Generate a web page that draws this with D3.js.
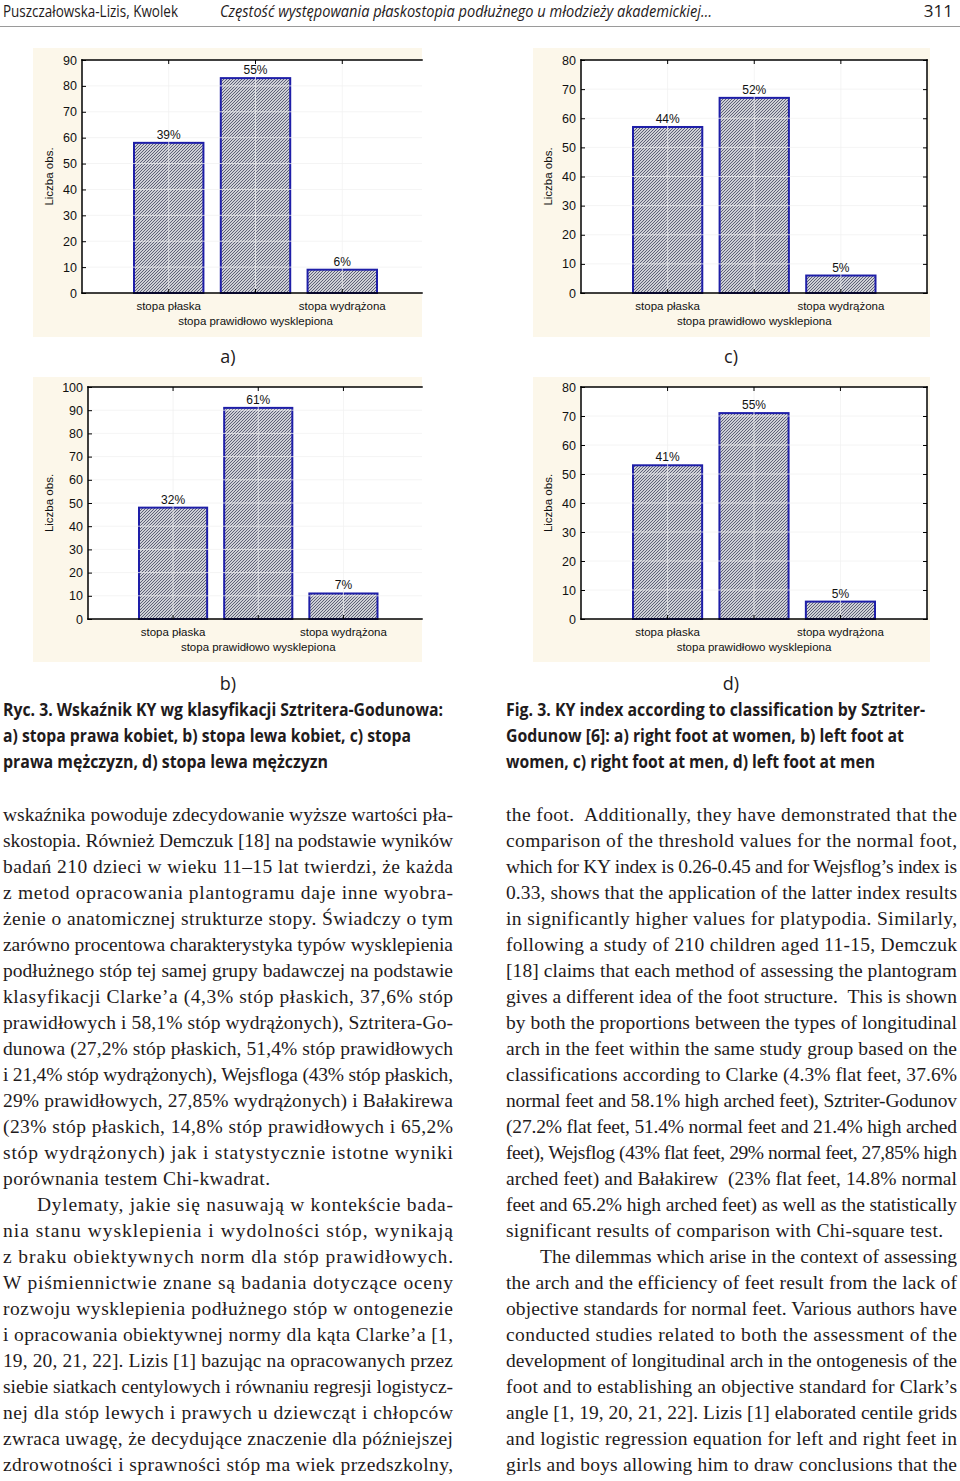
<!DOCTYPE html>
<html><head><meta charset="utf-8">
<script src="https://cdn.jsdelivr.net/npm/d3@7/dist/d3.min.js"></script>
<style>html,body{margin:0;padding:0;background:#fff}svg{display:block}</style>
</head><body>
<svg id="page" width="960" height="1481"></svg>
<script>
// ---------- data ----------
const categories = ["stopa płaska", "stopa prawidłowo wysklepiona", "stopa wydrążona"];
const countsA = [58, 83, 9];
const countsB = [48, 91, 11];
const countsC = [57, 67, 6];
const countsD = [53, 71, 6];
const pctA = ["39%", "55%", "6%"];
const pctB = ["32%", "61%", "7%"];
const pctC = ["44%", "52%", "5%"];
const pctD = ["41%", "55%", "5%"];
const yMaxA = 90, yMaxB = 100, yMaxC = 80, yMaxD = 80;
const yStep = 10;
const yTitle = "Liczba obs.";
const panelLetters = ["a)", "b)", "c)", "d)"];

const headerLeft = "Puszczałowska-Lizis, Kwolek";
const headerTitle = "Częstość występowania płaskostopia podłużnego u młodzieży akademickiej…";
const pageNumber = "311";

const captionPL = [
  "Ryc. 3. Wskaźnik KY wg klasyfikacji Sztritera-Godunowa:",
  "a) stopa prawa kobiet, b) stopa lewa kobiet, c) stopa",
  "prawa mężczyzn, d) stopa lewa mężczyzn"
];
const captionEN = [
  "Fig. 3. KY index according to classification by Sztriter-",
  "Godunow [6]: a) right foot at women, b) left foot at",
  "women, c) right foot at men, d) left foot at men"
];

const bodyLeft = [
  "wskaźnika powoduje zdecydowanie wyższe wartości pła-",
  "skostopia. Również Demczuk [18] na podstawie wyników",
  "badań 210 dzieci w wieku 11–15 lat twierdzi, że każda",
  "z metod opracowania plantogramu daje inne wyobra-",
  "żenie o anatomicznej strukturze stopy. Świadczy o tym",
  "zarówno procentowa charakterystyka typów wysklepienia",
  "podłużnego stóp tej samej grupy badawczej na podstawie",
  "klasyfikacji Clarke’a (4,3% stóp płaskich, 37,6% stóp",
  "prawidłowych i 58,1% stóp wydrążonych), Sztritera-Go-",
  "dunowa (27,2% stóp płaskich, 51,4% stóp prawidłowych",
  "i 21,4% stóp wydrążonych), Wejsfloga (43% stóp płaskich,",
  "29% prawidłowych, 27,85% wydrążonych) i Bałakirewa",
  "(23% stóp płaskich, 14,8% stóp prawidłowych i 65,2%",
  "stóp wydrążonych) jak i statystycznie istotne wyniki",
  "porównania testem Chi-kwadrat.",
  "Dylematy, jakie się nasuwają w kontekście bada-",
  "nia stanu wysklepienia i wydolności stóp, wynikają",
  "z braku obiektywnych norm dla stóp prawidłowych.",
  "W piśmiennictwie znane są badania dotyczące oceny",
  "rozwoju wysklepienia podłużnego stóp w ontogenezie",
  "i opracowania obiektywnej normy dla kąta Clarke’a [1,",
  "19, 20, 21, 22]. Lizis [1] bazując na opracowanych przez",
  "siebie siatkach centylowych i równaniu regresji logistycz-",
  "nej dla stóp lewych i prawych u dziewcząt i chłopców",
  "zwraca uwagę, że decydujące znaczenie dla późniejszej",
  "zdrowotności i sprawności stóp ma wiek przedszkolny,"
];
const bodyRight = [
  "the foot.  Additionally, they have demonstrated that the",
  "comparison of the threshold values for the normal foot,",
  "which for KY index is 0.26-0.45 and for Wejsflog’s index is",
  "0.33, shows that the application of the latter index results",
  "in significantly higher values for platypodia. Similarly,",
  "following a study of 210 children aged 11-15, Demczuk",
  "[18] claims that each method of assessing the plantogram",
  "gives a different idea of the foot structure.  This is shown",
  "by both the proportions between the types of longitudinal",
  "arch in the feet within the same study group based on the",
  "classifications according to Clarke (4.3% flat feet, 37.6%",
  "normal feet and 58.1% high arched feet), Sztriter-Godunov",
  "(27.2% flat feet, 51.4% normal feet and 21.4% high arched",
  "feet), Wejsflog (43% flat feet, 29% normal feet, 27,85% high",
  "arched feet) and Bałakirew  (23% flat feet, 14.8% normal",
  "feet and 65.2% high arched feet) as well as the statistically",
  "significant results of comparison with Chi-square test.",
  "The dilemmas which arise in the context of assessing",
  "the arch and the efficiency of feet result from the lack of",
  "objective standards for normal feet. Various authors have",
  "conducted studies related to both the assessment of the",
  "development of longitudinal arch in the ontogenesis of the",
  "foot and to establishing an objective standard for Clark’s",
  "angle [1, 19, 20, 21, 22]. Lizis [1] elaborated centile grids",
  "and logistic regression equation for left and right feet in",
  "girls and boys allowing him to draw conclusions that the"
];

// ---------- layout ----------
const svg = d3.select("#page");
const sans = "'Liberation Sans', Arial, sans-serif";
const narrow = "'Liberation Sans Narrow', 'Open Sans', 'Noto Sans', sans-serif";
const serif = "'Liberation Serif', 'DejaVu Serif', serif";
const ink = "#1f1b1c";

const defs = svg.append("defs");
const pat = defs.append("pattern").attr("id", "hatch")
  .attr("patternUnits", "userSpaceOnUse").attr("width", 3).attr("height", 3);
pat.append("rect").attr("width", 3).attr("height", 3).attr("fill", "#ffffff");
pat.append("path").attr("d", "M-1,1 L1,-1 M0,3 L3,0 M2,4 L4,2")
  .attr("stroke", "#555870").attr("stroke-width", 1.1);

// header
svg.append("text").attr("x", 3).attr("y", 17).attr("font-family", narrow).attr("font-size", 16.5)
  .attr("fill", ink).attr("textLength", 175).attr("lengthAdjust", "spacingAndGlyphs").text(headerLeft);
svg.append("text").attr("x", 220).attr("y", 17).attr("font-family", narrow).attr("font-size", 16.5)
  .attr("font-style", "italic").attr("fill", ink).attr("textLength", 492)
  .attr("lengthAdjust", "spacingAndGlyphs").text(headerTitle);
svg.append("text").attr("x", 953).attr("y", 17).attr("font-family", narrow).attr("font-size", 17)
  .attr("text-anchor", "end").attr("fill", ink).text(pageNumber);
svg.append("line").attr("x1", 0).attr("x2", 960).attr("y1", 26.5).attr("y2", 26.5)
  .attr("stroke", "#9a9a9a").attr("stroke-width", 1);

// charts
const charts = [
  {counts: countsA, pct: pctA, yMax: yMaxA, letter: panelLetters[0],
   panel: [33, 48, 422, 337], plot: [82, 60, 422, 293], bars: [134, 377], rightFrame: false, titleX: 53, letterX: 228, letterY: 363},
  {counts: countsB, pct: pctB, yMax: yMaxB, letter: panelLetters[1],
   panel: [33, 377, 422, 662], plot: [88, 387, 422, 619], bars: [139, 377.5], rightFrame: false, titleX: 53, letterX: 228, letterY: 690},
  {counts: countsC, pct: pctC, yMax: yMaxC, letter: panelLetters[2],
   panel: [533, 48, 930, 337], plot: [581, 60, 927, 293], bars: [633, 875.5], rightFrame: true, titleX: 552, letterX: 731, letterY: 363},
  {counts: countsD, pct: pctD, yMax: yMaxD, letter: panelLetters[3],
   panel: [533, 377, 930, 662], plot: [581, 387, 927, 619], bars: [633, 875], rightFrame: true, titleX: 552, letterX: 731, letterY: 690}
];

charts.forEach(c => {
  const [px0, py0, px1, py1] = c.panel;
  const [x0, y0, x1, y1] = c.plot;
  const g = svg.append("g");
  g.append("rect").attr("x", px0).attr("y", py0).attr("width", px1 - px0).attr("height", py1 - py0)
    .attr("fill", "#fcf7ea");
  g.append("rect").attr("x", x0).attr("y", y0).attr("width", x1 - x0).attr("height", y1 - y0)
    .attr("fill", "#ffffff");

  const x = d3.scaleBand().domain(categories).range(c.bars).paddingInner(0.2).paddingOuter(0);
  const y = d3.scaleLinear().domain([0, c.yMax]).range([y1, y0]);
  const ticks = d3.range(0, c.yMax + 1, yStep);
  const data = categories.map((k, i) => ({k, v: c.counts[i], p: c.pct[i]}));

  // bars
  g.selectAll("rect.bar").data(data).join("rect").attr("class", "bar")
    .attr("x", d => x(d.k)).attr("width", x.bandwidth())
    .attr("y", d => y(d.v)).attr("height", d => y(0) - y(d.v))
    .attr("fill", "url(#hatch)").attr("stroke", "#1e1ea8").attr("stroke-width", 2);

  // faint grid over everything
  g.selectAll("line.hg").data(ticks.filter(t => t > 0 && t < c.yMax)).join("line").attr("class", "hg")
    .attr("x1", x0).attr("x2", x1).attr("y1", d => y(d)).attr("y2", d => y(d))
    .attr("stroke", "#f0f0f0").attr("stroke-width", 1).attr("stroke-opacity", 0.75);
  g.selectAll("line.vg").data(categories).join("line").attr("class", "vg")
    .attr("x1", d => x(d) + x.bandwidth() / 2).attr("x2", d => x(d) + x.bandwidth() / 2)
    .attr("y1", y0).attr("y2", y1)
    .attr("stroke", "#f0f0f0").attr("stroke-width", 1).attr("stroke-opacity", 0.75);

  // axes
  const axL = g.append("g").attr("transform", `translate(${x0},0)`)
    .call(d3.axisLeft(y).tickValues(ticks).tickSize(-4).tickSizeOuter(0).tickPadding(5));
  axL.select(".domain").remove();
  axL.selectAll("text").attr("font-family", sans).attr("font-size", 12.5).attr("fill", "#111");
  axL.selectAll("line").attr("stroke", "#000");

  const axT = g.append("g").attr("transform", `translate(0,${y0})`)
    .call(d3.axisTop(x).tickSize(-4).tickSizeOuter(0).tickFormat(""));
  axT.select(".domain").remove();
  axT.selectAll("line").attr("stroke", "#000");
  const axB = g.append("g").attr("transform", `translate(0,${y1})`)
    .call(d3.axisBottom(x).tickSize(-4).tickSizeOuter(0).tickFormat(""));
  axB.select(".domain").remove();
  axB.selectAll("line").attr("stroke", "#000");
  if (c.rightFrame) {
    const axR = g.append("g").attr("transform", `translate(${x1},0)`)
      .call(d3.axisRight(y).tickValues(ticks).tickSize(-4).tickSizeOuter(0).tickFormat(""));
    axR.select(".domain").remove();
    axR.selectAll("line").attr("stroke", "#000");
  }

  // frame
  const frame = [[x0, y0, x0, y1], [x0, y0, x1, y0], [x0, y1, x1, y1]];
  if (c.rightFrame) frame.push([x1, y0, x1, y1]);
  g.selectAll("line.fr").data(frame).join("line").attr("class", "fr")
    .attr("x1", d => d[0]).attr("y1", d => d[1]).attr("x2", d => d[2]).attr("y2", d => d[3])
    .attr("stroke", "#000").attr("stroke-width", 1.5).attr("stroke-linecap", "square");

  // percentage labels
  g.selectAll("text.pct").data(data).join("text").attr("class", "pct")
    .attr("x", d => x(d.k) + x.bandwidth() / 2).attr("y", d => y(d.v) - 4)
    .attr("text-anchor", "middle").attr("font-family", sans).attr("font-size", 12).attr("fill", "#111")
    .text(d => d.p);

  // category labels (staggered)
  g.selectAll("text.cat").data(data).join("text").attr("class", "cat")
    .attr("x", d => x(d.k) + x.bandwidth() / 2)
    .attr("y", (d, i) => y1 + (i === 1 ? 32 : 17))
    .attr("text-anchor", "middle").attr("font-family", sans).attr("font-size", 11.5).attr("fill", "#111")
    .text(d => d.k);

  // y title
  g.append("text").attr("transform", `translate(${c.titleX},${(y0 + y1) / 2}) rotate(-90)`)
    .attr("text-anchor", "middle").attr("font-family", sans).attr("font-size", 11.5).attr("fill", "#111")
    .text(yTitle);

  // panel letter
  g.append("text").attr("x", c.letterX).attr("y", c.letterY).attr("text-anchor", "middle")
    .attr("font-family", narrow).attr("font-size", 18).attr("fill", ink).text(c.letter);
});

// captions
const capW_PL = [440, 408, 325];
const capW_EN = [419, 398, 369];
captionPL.forEach((t, i) => svg.append("text").attr("x", 3).attr("y", 716 + 26 * i)
  .attr("font-family", narrow).attr("font-weight", 700).attr("font-size", 17).attr("fill", ink)
  .attr("textLength", capW_PL[i]).attr("lengthAdjust", "spacingAndGlyphs").text(t));
captionEN.forEach((t, i) => svg.append("text").attr("x", 506).attr("y", 716 + 26 * i)
  .attr("font-family", narrow).attr("font-weight", 700).attr("font-size", 17).attr("fill", ink)
  .attr("textLength", capW_EN[i]).attr("lengthAdjust", "spacingAndGlyphs").text(t));

// body text columns
function column(lines, left, right, indentIdx, lastIdx, lastWidths) {
  lines.forEach((t, i) => {
    const xs = indentIdx.includes(i) ? left + 34 : left;
    let w = right - xs;
    const li = lastIdx.indexOf(i);
    if (li >= 0) w = lastWidths[li];
    svg.append("text").attr("x", xs).attr("y", 821 + 26 * i)
      .attr("font-family", serif).attr("font-size", 19.5).attr("fill", ink)
      .attr("textLength", w).attr("lengthAdjust", "spacing")
      .style("white-space", "pre").text(t);
  });
}
column(bodyLeft, 3, 453, [15], [14], [267]);
column(bodyRight, 506, 957, [17], [16], [437]);
</script>
</body></html>
